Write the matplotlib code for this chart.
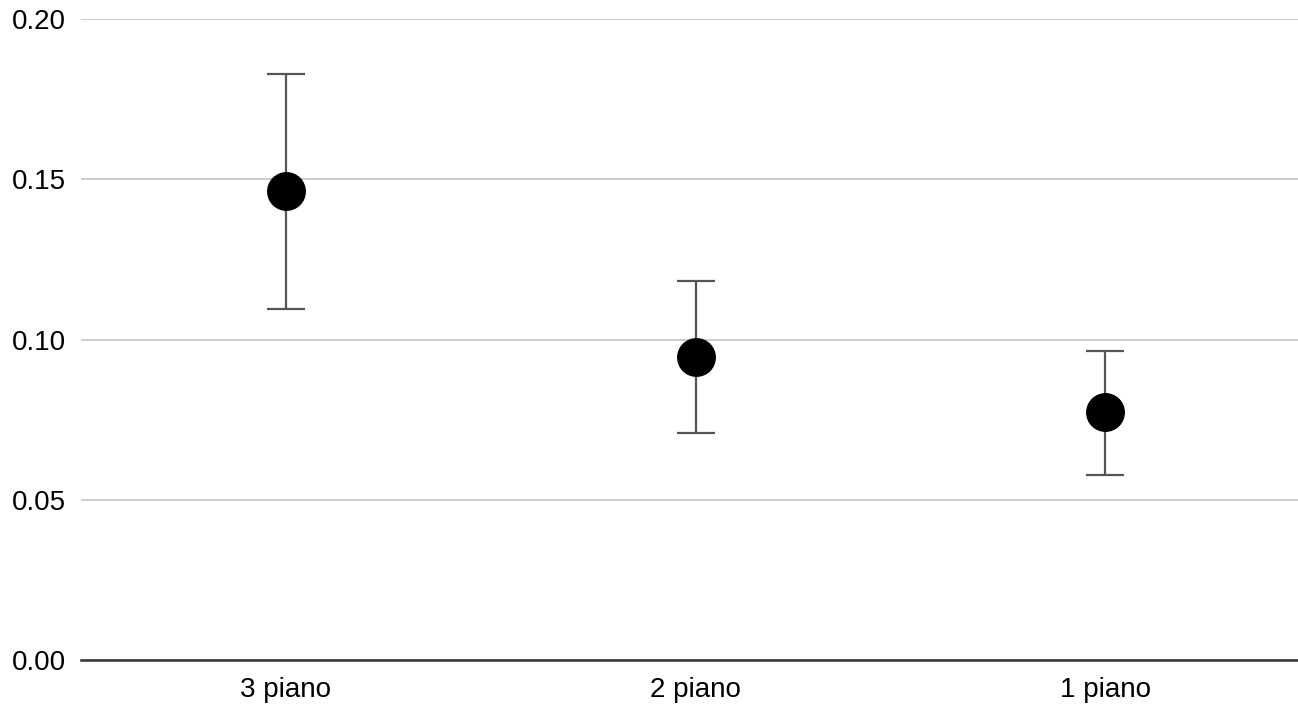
import matplotlib
matplotlib.use("Agg")
import matplotlib.pyplot as plt
import numpy as np

categories = ["3 piano", "2 piano", "1 piano"]
means = [0.1463, 0.0945, 0.0774]
upper = [0.1828, 0.1183, 0.0964]
lower = [0.1095, 0.0708, 0.0577]
yticks = [0.00, 0.05, 0.10, 0.15, 0.20]

plt.rcParams['font.family'] = ['Liberation Sans', 'DejaVu Sans']

fig = plt.figure(figsize=(12.98, 7.05), dpi=100)
ax = fig.add_axes([81/1298, 1 - 660/705, (1298 - 81)/1298, (660 - 19)/705])

x = np.arange(len(categories))
m = np.array(means)
yerr = np.vstack([m - np.array(lower), np.array(upper) - m])
ax.errorbar(x, m, yerr=yerr, fmt='none', ecolor='#555555', elinewidth=1.6,
            capsize=13.5, capthick=1.6, zorder=3)
ax.plot(x, m, 'o', color='black', markersize=27, zorder=4, linestyle='none')

ax.set_xlim(-0.5, 2.5 - 12/409.5)
ax.set_ylim(0, 0.20)
ax.set_yticks(yticks)
ax.set_yticklabels([f"{v:.2f}" for v in yticks])
ax.set_xticks(x)
ax.set_xticklabels(categories)
ax.grid(axis='y', color='#cccccc', linewidth=1.4, zorder=0)
ax.set_axisbelow(True)
for s in ['top', 'right', 'left']:
    ax.spines[s].set_visible(False)
ax.spines['bottom'].set_color('#333333')
ax.spines['bottom'].set_linewidth(1.8)
ax.spines['bottom'].set_zorder(2)
ax.tick_params(axis='both', length=0, labelsize=20, colors='#000000')
ax.tick_params(axis='y', pad=11)
ax.tick_params(axis='x', pad=12.5)

fig.savefig("out.png", dpi=100)
